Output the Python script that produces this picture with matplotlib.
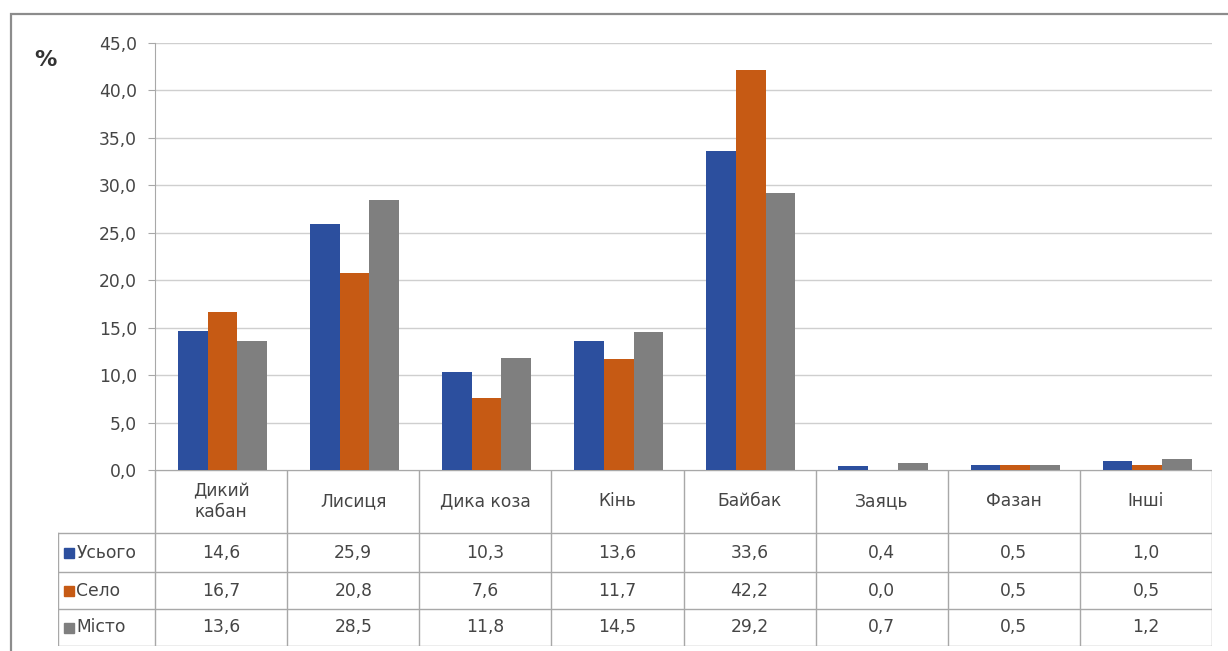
import matplotlib.pyplot as plt
import numpy as np
from matplotlib.patches import Rectangle

plt.rcParams['font.family'] = ['DejaVu Sans']

# species and share of hunters (%) by settlement type
categories = ['Дикий\nкабан', 'Лисиця', 'Дика коза', 'Кінь', 'Байбак',
              'Заяць', 'Фазан', 'Інші']
series_names = ['Усього', 'Село', 'Місто']
total = [14.6, 25.9, 10.3, 13.6, 33.6, 0.4, 0.5, 1.0]
village = [16.7, 20.8, 7.6, 11.7, 42.2, 0.0, 0.5, 0.5]
city = [13.6, 28.5, 11.8, 14.5, 29.2, 0.7, 0.5, 1.2]
yticks = np.arange(0, 46, 5)

colors = ['#2C4F9E', '#C65A14', '#7F7F7F']
line_col = '#A8A8A8'
txt_col = '#454545'
fs = 12.3

W, H = 1228, 651
fig = plt.figure(figsize=(W / 100, H / 100), dpi=100)


def fx(px):
    return px / W


def fy(py):
    return 1 - py / H


# outer chart frame
fig.patches.append(Rectangle((fx(11), fy(700)), fx(1300), fy(14) - fy(700),
                             transform=fig.transFigure, fill=False,
                             edgecolor='#8C8C8C', linewidth=1.6))

ax = fig.add_axes([fx(155), fy(470), fx(1212) - fx(155), fy(43) - fy(470)])
x = np.arange(len(categories))
bw = 0.225
data = [total, village, city]
for i, (vals, c) in enumerate(zip(data, colors)):
    ax.bar(x + (i - 1) * bw + 0.01, vals, width=bw, color=c, zorder=3)

ax.set_xlim(-0.5, len(categories) - 0.5)
ax.set_ylim(0, 45)
ax.set_yticks(yticks)
ax.set_yticklabels([f'{v:.1f}'.replace('.', ',') for v in yticks],
                   fontsize=fs, color=txt_col)
ax.tick_params(axis='y', length=5, color=line_col, pad=8)
ax.set_xticks([])
ax.grid(axis='y', color='#CFCFCF', linewidth=1, zorder=0)
for s in ['top', 'right', 'bottom']:
    ax.spines[s].set_visible(False)
ax.spines['left'].set_color(line_col)

fig.text(fx(45), fy(60), '%', fontsize=16, fontweight='bold', color='#333333',
         ha='center', va='center')

# data table under the bars
tab = fig.add_axes([fx(58), fy(646), fx(1212) - fx(58), fy(470) - fy(646)])
left_ext = (155 - 58) / ((1212 - 155) / len(categories))
tab.set_xlim(-0.5 - left_ext, len(categories) - 0.5)
tab.set_ylim(176, 0)
tab.axis('off')
rows = [0, 63, 102, 139, 176]
lw = 1.0
xl, x0, xr = -0.5 - left_ext, -0.5, len(categories) - 0.5
tab.plot([x0, xr], [0, 0], color=line_col, lw=lw)
for r in rows[1:]:
    tab.plot([xl, xr], [r, r], color=line_col, lw=lw)
tab.plot([xl, xl], [rows[1], rows[-1]], color=line_col, lw=lw)
for k in range(len(categories) + 1):
    tab.plot([k - 0.5, k - 0.5], [0, rows[-1]], color=line_col, lw=lw)

for k, cat in enumerate(categories):
    tab.text(k, rows[1] / 2, cat, ha='center', va='center', fontsize=fs,
             color=txt_col, linespacing=1.2)
for j, (name, vals, c) in enumerate(zip(series_names, data, colors)):
    yc = (rows[j + 1] + rows[j + 2]) / 2
    tab.plot([xl + 0.08], [yc], marker='s', ms=6.5, color=c, linestyle='none')
    tab.text(xl + 0.14, yc, name, ha='left', va='center', fontsize=fs,
             color=txt_col)
    for k, v in enumerate(vals):
        tab.text(k, yc, f'{v:.1f}'.replace('.', ','), ha='center', va='center',
                 fontsize=fs, color=txt_col)

fig.savefig('out.png', dpi=100)
